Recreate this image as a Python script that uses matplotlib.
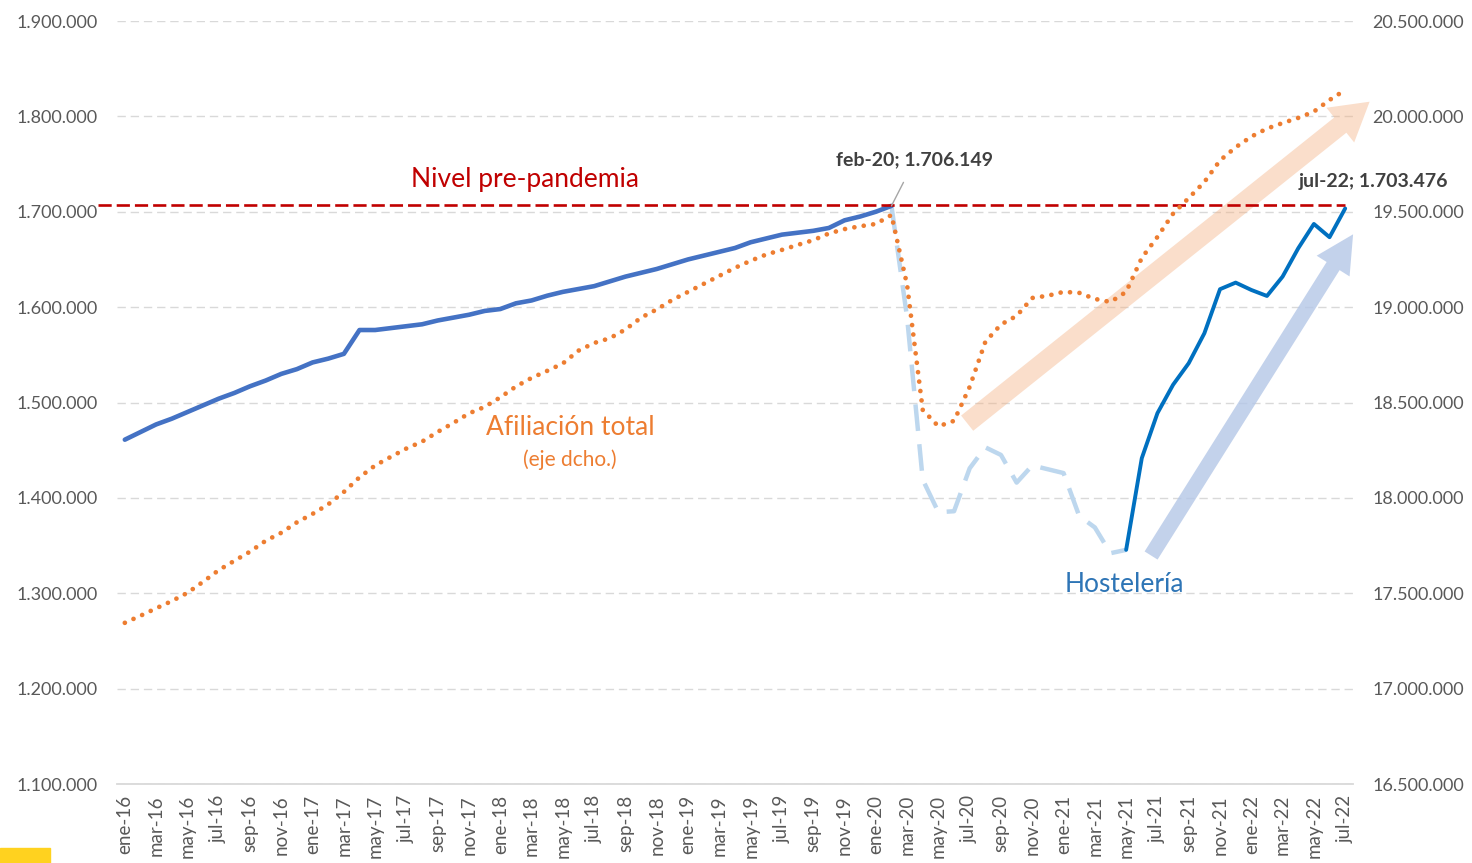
import matplotlib
matplotlib.use("Agg")
import matplotlib.pyplot as plt
from matplotlib.patches import FancyArrowPatch, Rectangle, ArrowStyle
import numpy as np

plt.rcParams['font.family'] = ['Lato', 'DejaVu Sans']

# ---- Data -------------------------------------------------------------
x_labels = ['ene-16', 'mar-16', 'may-16', 'jul-16', 'sep-16', 'nov-16',
            'ene-17', 'mar-17', 'may-17', 'jul-17', 'sep-17', 'nov-17',
            'ene-18', 'mar-18', 'may-18', 'jul-18', 'sep-18', 'nov-18',
            'ene-19', 'mar-19', 'may-19', 'jul-19', 'sep-19', 'nov-19',
            'ene-20', 'mar-20', 'may-20', 'jul-20', 'sep-20', 'nov-20',
            'ene-21', 'mar-21', 'may-21', 'jul-21', 'sep-21', 'nov-21',
            'ene-22', 'mar-22', 'may-22', 'jul-22']

# Hostelería, ene-16 .. feb-20 (months 0..49)
hosteleria_pre = [1461000, 1469000, 1477000, 1483000, 1490000, 1497000,
                  1504000, 1510000, 1517000, 1523000, 1530000, 1535000,
                  1542000, 1546000, 1551000, 1576000, 1576000, 1578000,
                  1580000, 1582000, 1586000, 1589000, 1592000, 1596000,
                  1598000, 1604000, 1607000, 1612000, 1616000, 1619000,
                  1622000, 1627000, 1632000, 1636000, 1640000, 1645000,
                  1650000, 1654000, 1658000, 1662000, 1668000, 1672000,
                  1676000, 1678000, 1680000, 1683000, 1691000, 1695000,
                  1700000, 1706149]
# Hostelería, feb-20 .. may-21 (months 49..64)
hosteleria_pandemia = [1706149, 1589000, 1419000, 1385000, 1386000, 1431000,
                       1453000, 1445000, 1416000, 1434000, 1430000, 1426000,
                       1381000, 1369000, 1342000, 1345500]
# Hostelería, may-21 .. jul-22 (months 64..78)
hosteleria_recup = [1345500, 1441600, 1488800, 1518600, 1541200, 1572600,
                    1618800, 1625700, 1618000, 1611700, 1632000, 1661700,
                    1687200, 1673300, 1703476]
# Afiliación total (eje dcho.), ene-16 .. jul-22 (months 0..78)
afiliacion_total = [17345000, 17382000, 17421000, 17459000, 17502000, 17560000,
                    17621000, 17670000, 17718000, 17775000, 17817000, 17872000,
                    17916000, 17966000, 18031000, 18108000, 18170000, 18215000,
                    18259000, 18295000, 18346000, 18393000, 18443000, 18477000,
                    18527000, 18584000, 18629000, 18666000, 18705000, 18772000,
                    18812000, 18837000, 18883000, 18945000, 18988000, 19038000,
                    19080000, 19122000, 19164000, 19206000, 19243000, 19276000,
                    19300000, 19326000, 19351000, 19386000, 19409000, 19424000,
                    19436000, 19483000, 19116000, 18461000, 18375000, 18404000,
                    18582000, 18818000, 18909000, 18954000, 19048000, 19060000,
                    19080000, 19075000, 19043000, 19027000, 19080000, 19258000,
                    19368000, 19490000, 19572000, 19656000, 19769000, 19838000,
                    19894000, 19936000, 19965000, 19992000, 20025000, 20086000,
                    20138000]
nivel_prepandemia = 1707500
left_ticks = [1100000, 1200000, 1300000, 1400000, 1500000, 1600000, 1700000, 1800000, 1900000]
right_ticks = [16500000, 17000000, 17500000, 18000000, 18500000, 19000000, 19500000, 20000000, 20500000]

# ---- Figure -------------------------------------------------------------
W, H = 1472, 863
fig = plt.figure(figsize=(W / 100, H / 100), dpi=100)
ax = fig.add_axes([117 / W, 1 - 784 / H, (1353 - 117) / W, (784 - 21) / H])
ax2 = ax.twinx()

n = len(afiliacion_total)
x_all = np.arange(n)
x_pre = np.arange(0, len(hosteleria_pre))
x_pan = np.arange(49, 49 + len(hosteleria_pandemia))
x_rec = np.arange(64, 64 + len(hosteleria_recup))

fmt = lambda v: f"{v:,.0f}".replace(",", ".")
gray = '#595959'

ax.set_xlim(-0.5, n - 0.5)
ax.set_ylim(1100000, 1900000)
ax2.set_ylim(16500000, 20500000)
ax.set_yticks(left_ticks)
ax.set_yticklabels([fmt(v) for v in left_ticks])
ax2.set_yticks(right_ticks)
ax2.set_yticklabels([fmt(v) for v in right_ticks])
ax.set_xticks(np.arange(0, n, 2))
ax.set_xticklabels(x_labels, rotation=90)

for a in (ax, ax2):
    for s in a.spines.values():
        s.set_visible(False)
    a.tick_params(length=0, labelsize=13, labelcolor=gray)
ax.tick_params(axis='x', labelsize=13.5)
ax.spines['bottom'].set_visible(True)
ax.spines['bottom'].set_color('#D9D9D9')
ax.spines['bottom'].set_linewidth(1.3)
ax.tick_params(axis='y', pad=14)
ax2.tick_params(axis='y', pad=14)
ax.tick_params(axis='x', pad=8)

ax.yaxis.grid(True, color='#D9D9D9', linestyle=(0, (6, 3.5)), linewidth=1.0)
ax.set_axisbelow(True)

# Hostelería lines
ax.plot(x_pre, hosteleria_pre, color='#4472C4', lw=3.3, solid_capstyle='round', zorder=3)
ax.plot(x_pan, hosteleria_pandemia, color='#BDD7EE', lw=3.2, linestyle=(0, (6, 3)), zorder=2)
ax.plot(x_rec, hosteleria_recup, color='#0070C0', lw=2.8, solid_capstyle='round', zorder=3)

# Pre-pandemic level
ax.plot([-1.7, n - 1], [nivel_prepandemia, nivel_prepandemia], color='#C00000',
        lw=1.9, linestyle=(0, (5, 1.9)), clip_on=False, zorder=4)

# Arrows (annotations)
orange_arrow = FancyArrowPatch((53.7, 1476500), (79.7, 1817200),
                               arrowstyle=ArrowStyle.Simple(head_length=27, head_width=32, tail_width=14),
                               color='#F4B183', alpha=0.42, lw=0, clip_on=False, zorder=1)
blue_arrow = FancyArrowPatch((65.5, 1337100), (78.6, 1678800),
                             arrowstyle=ArrowStyle.Simple(head_length=27, head_width=28, tail_width=11),
                             color='#B4C7E7', alpha=0.8, lw=0, clip_on=False, zorder=1)
ax.add_patch(orange_arrow)
ax.add_patch(blue_arrow)

# Afiliación total (right axis)
ax2.plot(x_all, afiliacion_total, color='#ED7D31', lw=3.4, linestyle=(0, (0.01, 2.0)),
         dash_capstyle='round', zorder=3)

# Texts
ax.text(25.6, 1733300, 'Nivel pre-pandemia', color='#C00000', fontsize=19,
        ha='center', va='center')
ax.text(28.45, 1473400, 'Afiliación total', color='#ED7D31', fontsize=19,
        ha='center', va='center')
ax.text(28.45, 1439800, '(eje dcho.)', color='#ED7D31', fontsize=15,
        ha='center', va='center')
ax.text(63.9, 1308800, 'Hostelería', color='#2E75B6', fontsize=19,
        ha='center', va='center')
ax.annotate('feb-20; 1.706.149', xy=(49, 1706149), xytext=(50.5, 1754300),
            ha='center', va='center', fontsize=14, fontweight='bold', color='#404040',
            arrowprops=dict(arrowstyle='-', color='#A6A6A6', lw=1, shrinkA=9, shrinkB=0),
            zorder=6)
ax.text(79.8, 1731200, 'jul-22; 1.703.476', ha='center', va='center', fontsize=14,
        fontweight='bold', color='#404040', clip_on=False, zorder=6)

# Yellow corner mark
fig.patches.append(Rectangle((0, 0), 50 / W, 15 / H, transform=fig.transFigure,
                             color='#FFD21F', zorder=0))

fig.savefig('out.png', dpi=100)
